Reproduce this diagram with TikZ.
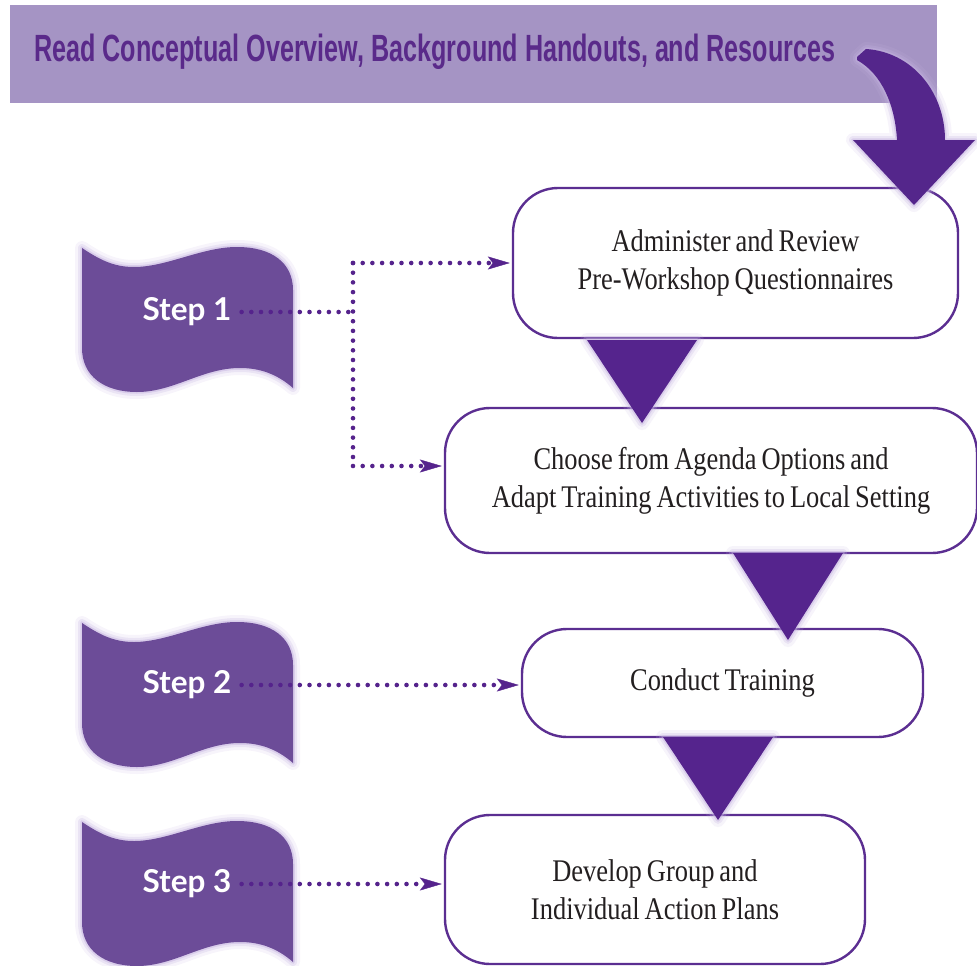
\documentclass[tikz,border=0pt]{standalone}
\usepackage{fontspec}
\usetikzlibrary{arrows.meta}
\newfontfamily\bannerfont{Liberation Sans}
\newfontfamily\boxfont[FakeStretch=0.84,WordSpace=0.75]{Liberation Serif}
\newfontfamily\stepfont{Lato}
\definecolor{bannerbg}{HTML}{A594C4}
\definecolor{bannertext}{HTML}{5A2A8A}
\definecolor{flagc}{HTML}{6C4C98}
\definecolor{tric}{HTML}{55248D}
\definecolor{arrowc}{HTML}{54268B}
\definecolor{boxline}{HTML}{5B2E91}
\definecolor{dotc}{HTML}{55238C}
\definecolor{haloc}{HTML}{C4B2E0}
\definecolor{textc}{HTML}{231F20}
\tikzset{
  glow/.style={
    preaction={draw=haloc, line width=14pt, opacity=0.14, line join=round},
    preaction={draw=haloc, line width=8pt, opacity=0.25, line join=round},
    preaction={draw=haloc, line width=3.5pt, opacity=0.45, line join=round}},
  stagebox/.style={draw=boxline, line width=2.4pt, fill=white, rounded corners=45pt,
    inner sep=0pt, align=center, text=textc,
    font=\boxfont\fontsize{31.5}{38}\selectfont},
  steplabel/.style={text=white, inner ysep=0pt, inner xsep=10pt,
    font=\stepfont\bfseries\fontsize{31.5}{36}\selectfont},
  dotline/.style={draw=dotc, line width=4.6pt, line cap=round, dash pattern=on 0pt off 9.7pt},
  dotarrow/.style={-{Stealth[length=22pt,width=13pt,inset=5pt,line width=0.4pt]}, shorten >=2pt},
  pics/stepflag/.style={code={
    \fill[flagc, glow] (0,0) .. controls (18,12) and (32,19) .. (52,19)
      .. controls (85,19) and (120,-1) .. (155,-1)
      .. controls (190,-1) and (211,15) .. (211,42) -- (211,140)
      .. controls (195,126) and (178,120) .. (158,120)
      .. controls (120,120) and (92,144) .. (55,144)
      .. controls (22,144) and (0,128) .. (0,100) -- cycle;}}
}
\begin{document}
\begin{tikzpicture}[x=1pt,y=-1pt]
\useasboundingbox (0,0) rectangle (977,966);

% heading bar
\fill[bannerbg] (10,5) rectangle (937,103);
\node[anchor=base west, inner sep=0pt, text=bannertext] (head) at (34,62)
  {\resizebox{801pt}{27.5pt}{\bannerfont\bfseries Read Conceptual Overview, Background Handouts, and Resources}};

% process stages
\node[stagebox, minimum width=445pt, minimum height=150pt] (b1) at (735.5,263)
  {Administer and Review\\Pre-Workshop Questionnaires};
\node[stagebox, minimum width=532pt, minimum height=145pt] (b2) at (711,480.5)
  {Choose from Agenda Options and\\Adapt Training Activities to Local Setting};
\node[stagebox, minimum width=401pt, minimum height=108pt] (b3) at (722.5,683)
  {Conduct Training};
\node[stagebox, minimum width=420pt, minimum height=149pt] (b4) at (655,889.5)
  {Develop Group and\\Individual Action Plans};

% downward triangles between stages
\fill[tric, glow] (587,340) -- (697,340) -- (642,423) -- cycle;
\fill[tric, glow] (733,553) -- (843,553) -- (788,640) -- cycle;
\fill[tric, glow] (663,737) -- (773,737) -- (718,820) -- cycle;

% curved arrow from the heading into the first stage
\fill[arrowc, glow] (857,57) -- (866,49)
  .. controls (912,52) and (945,92) .. (945,140) -- (975,140) -- (914,205)
  -- (853,140) -- (897,140) .. controls (895,105) and (882,74) .. (857,60) -- cycle;

% step flags
\pic at (82,248) {stepflag};
\pic at (82,623) {stepflag};
\pic at (82,822) {stepflag};
\node[steplabel] (s1) at (187,312) {Step 1};
\node[steplabel] (s2) at (187,685) {Step 2};
\node[steplabel] (s3) at (187,884) {Step 3};

% dotted links from steps to stages
\coordinate (j1t) at (353,263);
\coordinate (j1b) at (353,466);
\draw[dotline] (s1.east) -- (s1.east -| j1t);
\draw[dotline] (j1t) -- (j1b);
\draw[dotline, dotarrow] (j1t) -- (j1t -| b1.west);
\draw[dotline, dotarrow] (j1b) -- (j1b -| b2.west);
\draw[dotline, dotarrow] (s2.east) -- (s2.east -| b3.west);
\draw[dotline, dotarrow] (s3.east) -- (s3.east -| b4.west);
\end{tikzpicture}
\end{document}
